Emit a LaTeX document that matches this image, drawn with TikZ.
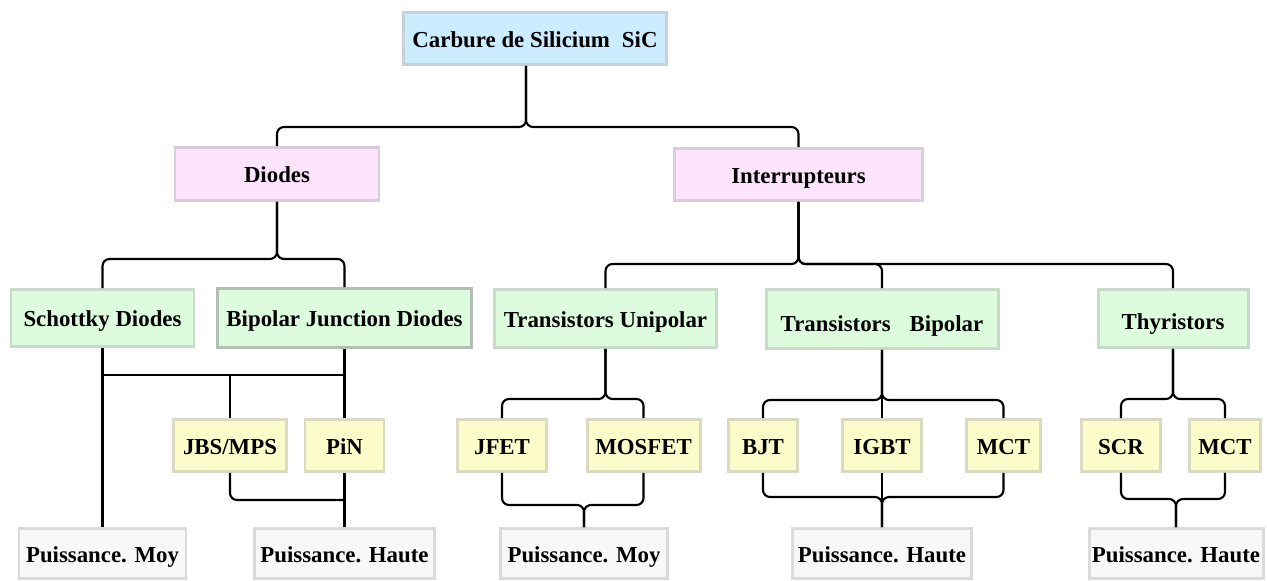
\documentclass[tikz,border=0pt]{standalone}
\usepackage{fontspec}
\setmainfont{Liberation Serif}
\usetikzlibrary{calc}

\definecolor{sicfill}{RGB}{204,236,255}
\definecolor{sicline}{RGB}{200,210,216}
\definecolor{catfill}{RGB}{252,228,252}
\definecolor{catline}{RGB}{218,204,218}
\definecolor{famfill}{RGB}{221,252,221}
\definecolor{famline}{RGB}{200,218,200}
\definecolor{devfill}{RGB}{252,252,202}
\definecolor{devline}{RGB}{218,218,194}
\definecolor{powfill}{RGB}{248,248,248}
\definecolor{powline}{RGB}{218,218,218}

\begin{document}
\begin{tikzpicture}[x=0.02cm,y=-0.02cm,
  box/.style={draw, line width=1.7pt, inner sep=0pt, text=black,
    text height=10.5pt, text depth=0.7pt,
    font=\fontsize{13}{15}\selectfont\bfseries},
  sz/.style 2 args={minimum width={#1*0.02cm-0.06cm}, minimum height={#2*0.02cm-0.06cm}},
  rootbox/.style={box, fill=sicfill, draw=sicline},
  catbox/.style={box, fill=catfill, draw=catline},
  fambox/.style={box, fill=famfill, draw=famline},
  devbox/.style={box, fill=devfill, draw=devline},
  powbox/.style={box, fill=powfill, draw=powline},
  wire/.style={line width=1.2pt, rounded corners=4pt},
  sharp/.style={line width=1.2pt},
]
\useasboundingbox (0,0) rectangle (1267,581);

% root and the two categories
\node[rootbox, sz={266}{55}] (sic) at (535,38.5) {Carbure de Silicium\hspace{6.8pt}SiC};
\node[catbox, sz={207}{56}] (dio) at (277,174) {Diodes};
\node[catbox, sz={251}{55}] (int) at (798.5,174.5) {Interrupteurs};

% device families
\node[fambox, sz={186}{60}] (sch) at (102.5,318) {Schottky Diodes};
\node[fambox, sz={257}{62}, draw=famline!70!gray] (bjd) at (344.5,318) {Bipolar Junction Diodes};
\node[fambox, sz={225}{61}] (tu) at (605.5,318.5) {Transistors Unipolar};
\node[fambox, sz={235}{62}] (tb) at (882,319) {\raisebox{-0.07cm}{Transistors\hspace{10.8pt}Bipolar}};
\node[fambox, sz={153}{61}] (thy) at (1173,318.5) {\raisebox{-0.05cm}{Thyristors}};

% devices
\node[devbox, sz={116}{55}] (jbs) at (230,445.5) {JBS/MPS};
\node[devbox, sz={82}{55}] (pin) at (344.5,445.5) {PiN};
\node[devbox, sz={92}{55}] (jfet) at (502,445.5) {JFET};
\node[devbox, sz={116}{55}] (mos) at (643.5,445.5) {MOSFET};
\node[devbox, sz={72}{55}] (bjt) at (763,445.5) {BJT};
\node[devbox, sz={82}{55}] (igbt) at (882,445.5) {IGBT};
\node[devbox, sz={77}{55}] (mcta) at (1003.5,445.5) {MCT};
\node[devbox, sz={82}{55}] (scr) at (1121,445.5) {SCR};
\node[devbox, sz={74}{55}] (mctb) at (1225,445.5) {MCT};

% power ranges
\node[powbox, sz={170}{53}] (pm1) at (102.5,553.5) {Puissance. Moy};
\node[powbox, sz={183}{53}] (ph1) at (344.5,553.5) {Puissance. Haute};
\node[powbox, sz={170}{53}] (pm2) at (584,553.5) {Puissance. Moy};
\node[powbox, sz={182}{53}] (ph2) at (882,553.5) {Puissance. Haute};
\node[powbox, sz={177}{53}] (ph3) at (1176,553.5) {Puissance. Haute};

% root to categories
\coordinate (sicout) at ($(sic.south)+(-9,0)$);
\draw[wire] (sicout) -- ++(0,61) -| (dio.north);
\draw[wire] (sicout) -- ++(0,61) -| (int.north);

% diodes branch
\draw[wire] (dio.south) -- ++(0,57) -| (sch.north);
\draw[wire] (dio.south) -- ++(0,57) -| (bjd.north);
\coordinate (dbus) at (0,375);
\coordinate (dlow) at (0,500);
\draw[sharp] (sch.south) -- (pm1.north);
\draw[sharp] (bjd.south) -- (pin.north);
\draw[sharp] (pin.south) -- (ph1.north);
\draw[sharp] (sch.south |- dbus) -- (bjd.south |- dbus);
\draw[sharp] (jbs.north |- dbus) -- (jbs.north);
\draw[wire] (jbs.south) |- (pin.south |- dlow);

% switches branch
\draw[wire] (int.south) -- ++(0,62) -| (tu.north);
\draw[wire] (int.south) -- ++(0,62) -| (tb.north);
\draw[wire] (int.south) -- ++(0,62) -| (thy.north);

% unipolar transistors
\draw[wire] (tu.south) -- ++(0,50) -| (jfet.north);
\draw[wire] (tu.south) -- ++(0,50) -| (mos.north);
\draw[wire] (jfet.south) |- ($(pm2.north)+(0,-22)$) -- (pm2.north);
\draw[wire] (mos.south) |- ($(pm2.north)+(0,-22)$) -- (pm2.north);

% bipolar transistors
\draw[wire] (tb.south) -- ++(0,50) -| (bjt.north);
\draw[wire] (tb.south) -- ++(0,50) -| (mcta.north);
\draw[sharp] (tb.south) -- (igbt.north);
\draw[wire] (bjt.south) |- ($(ph2.north)+(0,-30)$) -- (ph2.north);
\draw[wire] (mcta.south) |- ($(ph2.north)+(0,-30)$) -- (ph2.north);
\draw[sharp] (igbt.south) -- (ph2.north);

% thyristors
\draw[wire] (thy.south) -- ++(0,50) -| (scr.north);
\draw[wire] (thy.south) -- ++(0,50) -| (mctb.north);
\draw[wire] (scr.south) |- ($(ph3.north)+(0,-28)$) -- (ph3.north);
\draw[wire] (mctb.south) |- ($(ph3.north)+(0,-28)$) -- (ph3.north);
\end{tikzpicture}
\end{document}
